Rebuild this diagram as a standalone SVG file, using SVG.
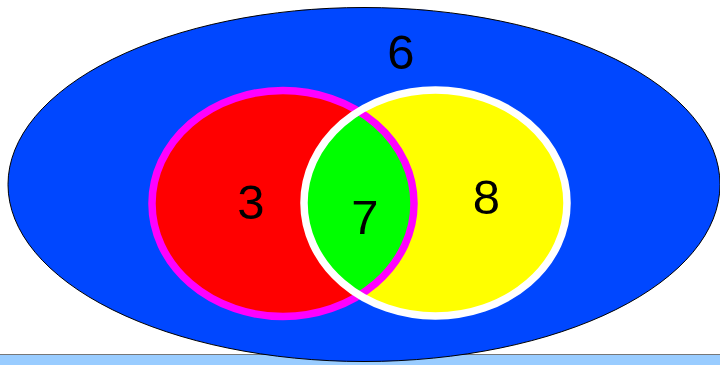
<svg xmlns="http://www.w3.org/2000/svg" width="720" height="365" viewBox="0 0 720 365">
<style>
.lbl{font-family:"Liberation Sans",Arial,sans-serif;font-size:49px;fill:#000;text-anchor:middle}
</style>
<defs>
<clipPath id="inRed"><ellipse cx="283" cy="203.5" rx="131" ry="113"/></clipPath>
<clipPath id="inYellow"><ellipse cx="435.5" cy="203" rx="131.5" ry="113"/></clipPath>
</defs>
<rect x="0" y="354.5" width="720" height="11" fill="#99ccff"/>
<line x1="0" y1="354.5" x2="720" y2="354.5" stroke="#777" stroke-width="1"/>
<g id="universe">
<ellipse cx="364" cy="184.5" rx="356" ry="177" fill="#0047ff" stroke="#000" stroke-width="1"/>
<text class="lbl" x="401" y="69">6</text>
</g>
<g id="setA">
<ellipse cx="283" cy="203.5" rx="131" ry="113" fill="#ff0000" stroke="#ff00ff" stroke-width="7.5"/>
<text class="lbl" x="251" y="219">3</text>
</g>
<g id="setB">
<ellipse cx="435.5" cy="203" rx="131.5" ry="113" fill="#ffff00" stroke="none"/>
</g>
<g id="intersection">
<ellipse cx="435.5" cy="203" rx="131.5" ry="113" fill="#00ff00" clip-path="url(#inRed)"/>
<ellipse cx="283" cy="203.5" rx="131" ry="113" fill="none" stroke="#ff00ff" stroke-width="7.5" clip-path="url(#inYellow)"/>
</g>
<g id="setBOutline">
<ellipse cx="435.5" cy="203" rx="131.5" ry="113" fill="none" stroke="#ffffff" stroke-width="7.5"/>
<text class="lbl" x="486.5" y="214">8</text>
</g>
<g id="label7">
<text class="lbl" x="365" y="234">7</text>
</g>
<g id="connectors"/>
</svg>
